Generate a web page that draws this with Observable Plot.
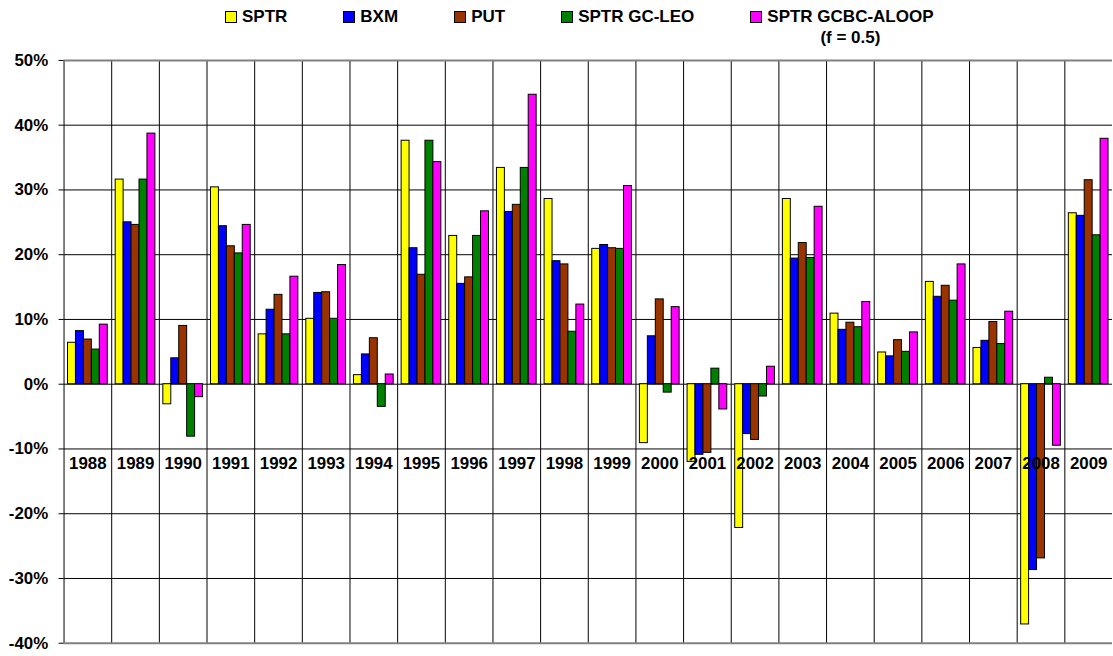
<!DOCTYPE html>
<html>
<head>
<meta charset="utf-8">
<script src="https://cdn.jsdelivr.net/npm/d3@7"></script>
<script src="https://cdn.jsdelivr.net/npm/@observablehq/plot@0.6"></script>
<style>
  html, body { margin: 0; padding: 0; background: #fff; overflow: hidden; }
  #legend {
    height: 50px; box-sizing: border-box; padding: 6px 0 0 225px;
    display: flex; align-items: flex-start; gap: 56px;
    font-family: "Liberation Sans", Arial, sans-serif; font-weight: bold; font-size: 17px;
    line-height: 21px; color: #000;
  }
  .item { display: flex; align-items: flex-start; }
  .sw { width: 10px; height: 10px; border: 1px solid #000; margin: 5px 5px 0 0; flex: none; }
  .lbl { text-align: center; white-space: nowrap; }
  #chart svg { display: block; }
</style>
</head>
<body>
<div id="legend"></div>
<div id="chart"></div>
<script>
const years = ["1988","1989","1990","1991","1992","1993","1994","1995","1996","1997","1998",
               "1999","2000","2001","2002","2003","2004","2005","2006","2007","2008","2009"];
const series = ["SPTR", "BXM", "PUT", "SPTR GC-LEO", "SPTR GCBC-ALOOP"];
const legendLabels = [["SPTR"], ["BXM"], ["PUT"], ["SPTR GC-LEO"], ["SPTR GCBC-ALOOP", "(f = 0.5)"]];
const colors = ["#FFFF00", "#0000FF", "#993300", "#008000", "#FF00FF"];

// annual returns, percent
const sptr  = [6.4, 31.6, -3.1, 30.4, 7.7, 10.1, 1.4, 37.6, 22.9, 33.4, 28.6, 20.9, -9.1, -12.0, -22.2, 28.6, 10.9, 4.9, 15.8, 5.6, -37.1, 26.4];
const bxm   = [8.2, 25.0, 4.0, 24.4, 11.5, 14.1, 4.6, 21.0, 15.5, 26.6, 19.0, 21.5, 7.4, -10.9, -7.7, 19.4, 8.4, 4.3, 13.5, 6.7, -28.7, 26.0];
const put   = [6.9, 24.6, 9.0, 21.3, 13.8, 14.2, 7.1, 16.9, 16.5, 27.7, 18.5, 21.0, 13.1, -10.6, -8.6, 21.8, 9.5, 6.8, 15.2, 9.6, -26.9, 31.5];
const leo   = [5.35, 31.6, -8.1, 20.2, 7.7, 10.1, -3.5, 37.6, 22.9, 33.4, 8.1, 20.9, -1.3, 2.4, -1.9, 19.5, 8.8, 5.0, 12.9, 6.2, 1.0, 23.0];
const aloop = [9.2, 38.7, -2.0, 24.6, 16.6, 18.4, 1.5, 34.3, 26.7, 44.7, 12.3, 30.6, 11.9, -3.9, 2.7, 27.4, 12.7, 8.0, 18.5, 11.2, -9.5, 37.9];

const yTicks = [-0.4, -0.3, -0.2, -0.1, 0, 0.1, 0.2, 0.3, 0.4, 0.5];
const labelRow = -0.123;

const seriesValues = [sptr, bxm, put, leo, aloop];
const rows = [];
series.forEach((s, i) => years.forEach((y, j) => rows.push({year: y, series: s, value: seriesValues[i][j] / 100})));

// legend
const legend = document.getElementById("legend");
series.forEach((s, i) => {
  const item = document.createElement("div");
  item.className = "item";
  const sw = document.createElement("div");
  sw.className = "sw";
  sw.style.background = colors[i];
  const lbl = document.createElement("div");
  lbl.className = "lbl";
  lbl.innerHTML = legendLabels[i].join("<br>");
  item.append(sw, lbl);
  legend.append(item);
});

const chart = Plot.plot({
  width: 1121,
  height: 606,
  marginLeft: 62,
  marginRight: 0,
  marginTop: 10,
  marginBottom: 9,
  style: {fontFamily: "'Liberation Sans', Arial, sans-serif", fontSize: "17px", fontWeight: "bold", color: "#000", background: "#fff"},
  fx: {domain: years, padding: 0, axis: null},
  x: {domain: series, paddingInner: 0, paddingOuter: 0.23, axis: null},
  y: {domain: [-0.4, 0.5], ticks: yTicks, tickFormat: d => `${Math.round(d * 100)}%`, tickSize: 5, tickPadding: 11, label: null},
  color: {domain: series, range: colors},
  marks: [
    Plot.ruleY(yTicks.slice(1, -1), {stroke: "#000", strokeWidth: 1}),
    Plot.frame({anchor: "left", stroke: "#000", strokeWidth: 1}),
    Plot.barY(rows, {fx: "year", x: "series", y: "value", fill: "series", stroke: "#000", strokeWidth: 1}),
    Plot.ruleY([yTicks[0], yTicks[yTicks.length - 1]], {stroke: "#808080", strokeWidth: 2}),
    Plot.text(years, {fx: d => d, y: () => labelRow, text: d => d, fill: "#000"})
  ]
});
document.getElementById("chart").append(chart);
</script>
</body>
</html>
